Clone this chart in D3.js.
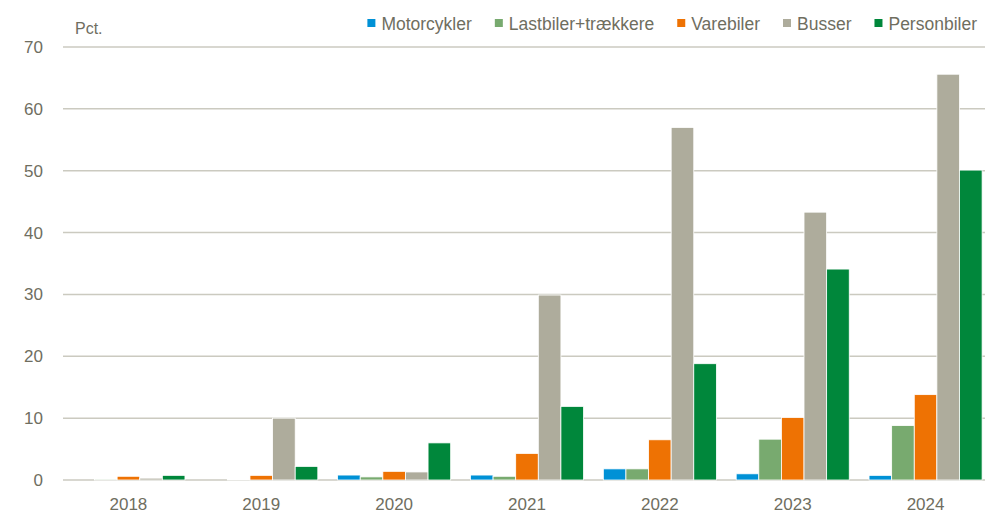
<!DOCTYPE html>
<html>
<head>
<meta charset="utf-8">
<script src="https://cdn.jsdelivr.net/npm/d3@7"></script>
<style>
  body { margin: 0; background: #fff; }
  text { font-family: "Liberation Sans", Arial, sans-serif; fill: #6f6e5f; }
</style>
</head>
<body>
<div id="chart"></div>
<script>
// values (pct.)
const years = ["2018", "2019", "2020", "2021", "2022", "2023", "2024"];
const seriesNames = ["Motorcykler", "Lastbiler+trækkere", "Varebiler", "Busser", "Personbiler"];
const seriesColors = ["#0091d6", "#78aa6f", "#ee7203", "#aeac9c", "#00873b"];

const motorcykler = [0, 0, 0.8, 0.8, 1.8, 1.0, 0.75];
const lastbiler   = [0.15, 0.1, 0.5, 0.6, 1.8, 6.6, 8.8];
const varebiler   = [0.6, 0.75, 1.4, 4.3, 6.5, 10.1, 13.8];
const busser      = [0.3, 10.0, 1.3, 29.9, 57.0, 43.3, 65.6];
const personbiler = [0.75, 2.2, 6.0, 11.9, 18.8, 34.1, 50.1];

const yTicks = [0, 10, 20, 30, 40, 50, 60, 70];

const allSeries = [motorcykler, lastbiler, varebiler, busser, personbiler];

const width = 985, height = 515;
const margin = { top: 47, left: 62, bottom: 35, right: -7 };

const svg = d3.select("#chart")
    .append("svg")
    .attr("width", width)
    .attr("height", height);

const x0 = d3.scaleBand()
    .domain(years)
    .range([margin.left, width - margin.right])
    .paddingInner(0.149)
    .paddingOuter(0.0745);

const x1 = d3.scaleBand()
    .domain(seriesNames)
    .range([0, x0.bandwidth()]);

const y = d3.scaleLinear()
    .domain([0, 70])
    .range([height - margin.bottom, margin.top]);

// gridlines
svg.append("g")
    .selectAll("line")
    .data(yTicks)
    .enter()
    .append("line")
    .attr("x1", margin.left + 1)
    .attr("x2", width)
    .attr("y1", d => y(d))
    .attr("y2", d => y(d))
    .attr("stroke", "#cbcac0")
    .attr("stroke-width", 1.5);

// y tick labels
svg.append("g")
    .selectAll("text")
    .data(yTicks)
    .enter()
    .append("text")
    .attr("x", 43)
    .attr("y", d => y(d) + 6)
    .attr("text-anchor", "end")
    .style("font-size", "17px")
    .text(d => d);

svg.append("text")
    .attr("x", 75)
    .attr("y", 34)
    .style("font-size", "16px")
    .text("Pct.");

// bars
const groups = svg.append("g")
    .selectAll("g")
    .data(years)
    .enter()
    .append("g")
    .attr("transform", d => "translate(" + x0(d) + ",0)");

groups.selectAll("rect")
    .data((yr, i) => seriesNames.map((s, j) => ({ s: s, j: j, v: allSeries[j][i] })))
    .enter()
    .append("rect")
    .attr("x", d => x1(d.s))
    .attr("width", x1.bandwidth())
    .attr("y", d => y(d.v))
    .attr("height", d => y(0) - y(d.v))
    .attr("fill", d => seriesColors[d.j])
    .attr("stroke", "#ffffff")
    .attr("stroke-width", d => d.v > 0 ? 0.8 : 1.5);

// x labels
svg.append("g")
    .selectAll("text")
    .data(years)
    .enter()
    .append("text")
    .attr("x", d => x0(d) + x0.bandwidth() / 2)
    .attr("y", 510)
    .attr("text-anchor", "middle")
    .style("font-size", "17px")
    .text(d => d);

// legend, right aligned
const legend = svg.append("g");
const items = legend.selectAll("g")
    .data(seriesNames)
    .enter()
    .append("g");

items.append("rect")
    .attr("width", 8)
    .attr("height", 8)
    .attr("y", 19)
    .attr("fill", (d, i) => seriesColors[i]);

items.append("text")
    .attr("x", 14)
    .attr("y", 30)
    .style("font-size", "17.5px")
    .text(d => d);

var widths = [];
items.each(function() {
    widths.push(d3.select(this).select("text").node().getComputedTextLength() + 14);
});
var gap = 23;
var xPos = 977 - d3.sum(widths) - gap * (widths.length - 1);
items.attr("transform", function(d, i) {
    var t = "translate(" + xPos + ",0)";
    xPos += widths[i] + gap;
    return t;
});
</script>
</body>
</html>
